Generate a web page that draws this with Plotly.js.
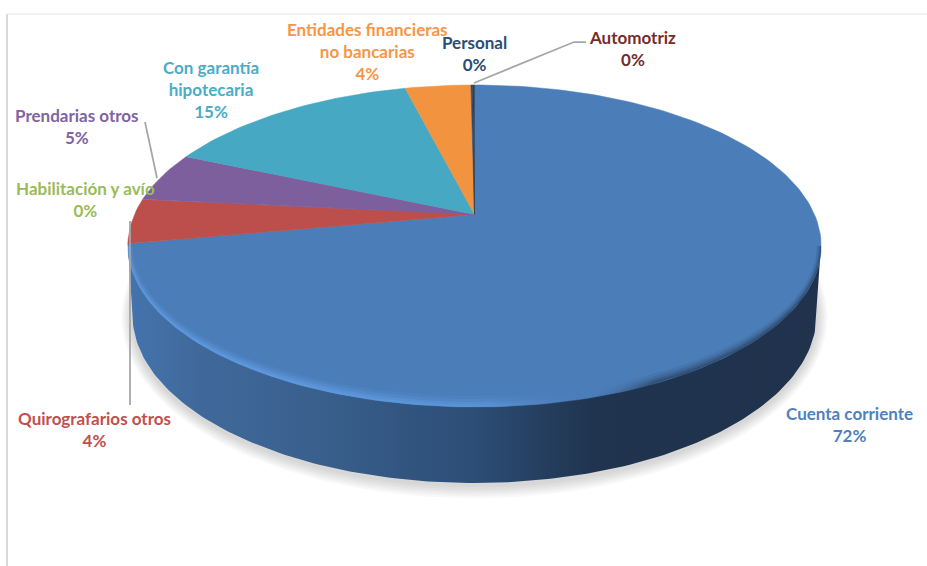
<!DOCTYPE html>
<html><head><meta charset="utf-8">
<script src="https://cdn.plot.ly/plotly-3.0.1.min.js"></script>
<style>html,body{margin:0;padding:0;background:#fff}#c{width:927px;height:566px}</style>
</head><body><div id="c"></div>
<script>
// Data, clockwise from twelve o'clock
const categories = ['Cuenta corriente','Quirografarios otros','Habilitación y avío','Prendarias otros','Con garantía hipotecaria','Entidades financieras no bancarias','Personal','Automotriz'];
const values = [72.1, 4.45, 0.05, 5.0, 14.5, 3.7, 0.1, 0.1];
const labelText = ['Cuenta corriente','Quirografarios otros','Habilitación y avío','Prendarias otros','Con garantía<br>hipotecaria','Entidades financieras<br>no bancarias','Personal','Automotriz'];

// Styles
const sliceColors = ['#4B7DB9','#BC4F4B','#BC4F4B','#7D5F9D','#47A8C3','#F29340','#2C4D75','#2C3E55'];
const labelColors = ['#4F81BD','#C0504D','#9BBB59','#8064A2','#4BACC6','#F79646','#2C4D75','#772C2A'];
const labelX = [849, 94, 85, 77, 211, 367, 474, 632];
const labelY = [424, 429, 199, 126, 89, 51, 53, 48];

// Perspective of the disc: a projected circle
const C = {x:474.5, y:214.5, R:340, a:112.9, c:-0.1957};
const project = (u,v) => { const d = 1 + C.c*v; return [C.x + C.R*u/d, (C.y + C.a*v)/d]; };
const E1 = {cx:474.5, cy:246, rx:346.5, ry:161};
const E2 = {cx:474.5, cy:315, rx:342, ry:168};
const arc = (e,t0,t1,n,dx,dy) => { const xs=[],ys=[]; for(let i=0;i<=n;i++){const t=t0+(t1-t0)*i/n; xs.push(e.cx+(e.rx-(dx||0))*Math.cos(t)); ys.push(e.cy+(e.ry-(dy||0))*Math.sin(t));} return [xs,ys]; };

const traces = [];
const base = {type:'scatter', mode:'lines', fill:'toself', hoverinfo:'skip', showlegend:false};

// soft ground shadow
for (let k=6;k>=1;k--){
  const [x,y] = arc({cx:E2.cx, cy:E2.cy+2, rx:E2.rx+k*1.8, ry:E2.ry+k*2.2},0,2*Math.PI,180);
  traces.push({...base, x, y, line:{width:0}, fillcolor:'rgba(90,90,90,0.045)'});
}

// side wall
{
  const [ax,ay] = arc(E2,0,Math.PI,160);
  const x=[E1.cx+E1.rx,...ax,E1.cx-E1.rx], y=[E1.cy,...ay,E1.cy];
  traces.push({...base, x, y, line:{width:0}, fillcolor:'#2f5280',
    fillgradient:{type:'horizontal', colorscale:[[0,'#4474AE'],[0.1,'#40699B'],[0.28,'#395F8C'],[0.5,'#2C4D76'],[0.67,'#20344F'],[1,'#20324C']]}});
}

// top-face slices from the values
const total = values.reduce((a,b)=>a+b,0);
let cum = 0;
values.forEach((val,i)=>{
  const f0 = cum/total, f1 = (cum+val)/total; cum += val;
  const n = Math.max(2, Math.ceil((f1-f0)*240));
  const x=[C.x], y=[C.y];
  for(let j=0;j<=n;j++){
    const th = 2*Math.PI*(f0+(f1-f0)*j/n);
    const p = project(Math.sin(th), -Math.cos(th));
    x.push(p[0]); y.push(p[1]);
  }
  x.push(C.x); y.push(C.y);
  traces.push({...base, x, y, fillcolor:sliceColors[i], line:{color:sliceColors[i], width:0.5}});
});

// bevel: light rim at front-left, soft dark rim at right
const bands = [[10,11,0.16,0.1],[7,8,0.3,0.16],[4,5,0.45,0.24],[2,2.5,0.6,0.3]];
bands.forEach(([dy,dyb,al,dk])=>{
  const [ox,oy] = arc(E1,0,Math.PI,160);
  const [ix,iy] = arc(E1,Math.PI,0,160,dy*0.45,dyb);
  traces.push({...base, x:[...ox,...ix], y:[...oy,...iy], line:{width:0}, fillcolor:'rgba(0,0,0,0)',
    fillgradient:{type:'horizontal', colorscale:[
      [0,`rgba(95,155,225,${al})`],[0.3,`rgba(95,155,225,${al})`],[0.52,`rgba(95,155,225,${al*0.7})`],
      [0.66,`rgba(75,125,185,0)`],[0.76,`rgba(32,50,76,${dk})`],[1,`rgba(32,50,76,${dk})`]]}});
});

// labels
const annotations = categories.map((c,i)=>({
  x:labelX[i], y:labelY[i], xref:'x', yref:'y', showarrow:false, xanchor:'center', yanchor:'middle', align:'center',
  text: labelText[i]+'<br>'+Math.round(values[i]/total*100)+'%',
  font:{family:'Lato, sans-serif', size:17, color:labelColors[i], weight:700}
}));

const leader = {type:'path', xref:'x', yref:'y', line:{color:'#A6A6A6', width:1.75}, layer:'above'};
const frame = {type:'line', xref:'x', yref:'y', layer:'below'};
const shapes = [
  {...frame, x0:7, x1:7, y0:14, y1:566, line:{color:'#D9D9D9', width:2}},
  {...frame, x0:7, x1:927, y0:14, y1:14, line:{color:'#E4E4E4', width:1}},
  {...leader, path:'M586,42 L574,42 L474,83'},
  {...leader, path:'M145,122 L157,178'},
  {...leader, path:'M130,221 L130,405'}
];

const hidden = {visible:false, fixedrange:true};
Plotly.newPlot('c', traces, {
  width:927, height:566, margin:{l:0,r:0,t:0,b:0},
  paper_bgcolor:'#fff', plot_bgcolor:'#fff', showlegend:false,
  xaxis:{...hidden, range:[0,927]},
  yaxis:{...hidden, range:[566,0]},
  annotations, shapes
}, {displayModeBar:false, staticPlot:true});
</script></body></html>
